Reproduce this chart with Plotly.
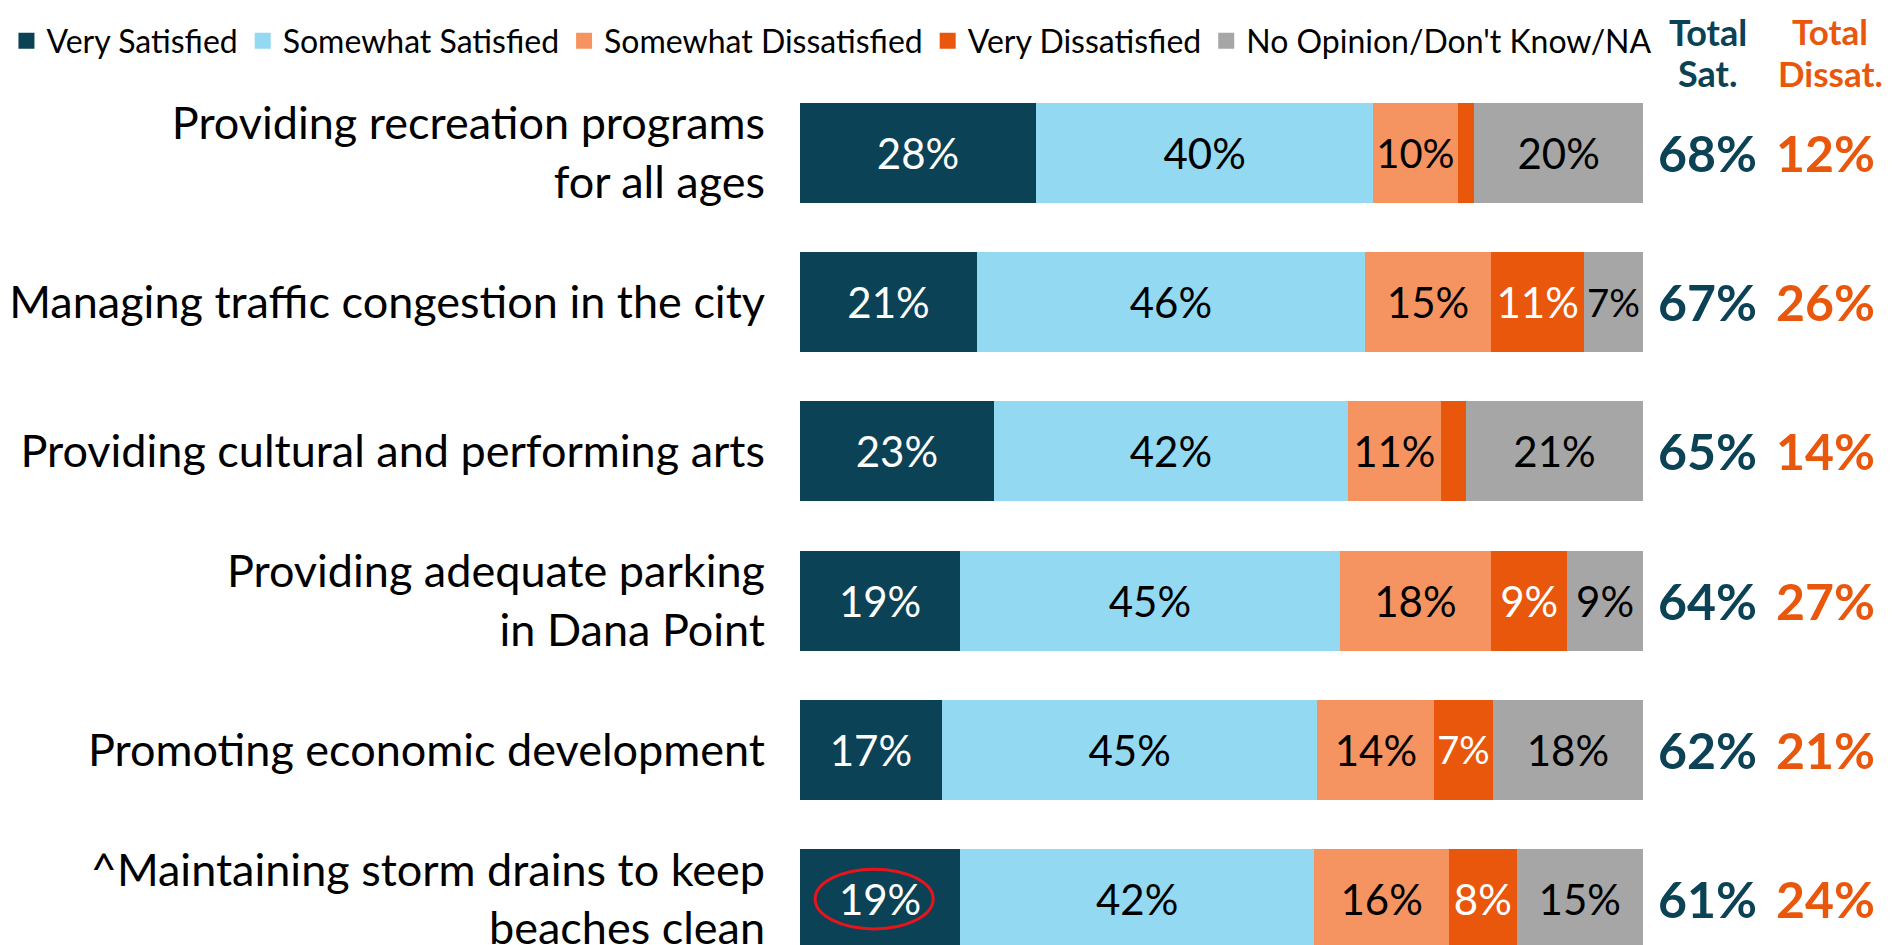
import plotly.graph_objects as go

categories = [
    "Providing recreation programs<br>for all ages",
    "Managing traffic congestion in the city",
    "Providing cultural and performing arts",
    "Providing adequate parking<br>in Dana Point",
    "Promoting economic development",
    "^Maintaining storm drains to keep<br>beaches clean",
]
series_names = ["Very Satisfied", "Somewhat Satisfied", "Somewhat Dissatisfied",
                "Very Dissatisfied", "No Opinion/Don't Know/NA"]
very_satisfied = [28, 21, 23, 19, 17, 19]
somewhat_satisfied = [40, 46, 42, 45, 45, 42]
somewhat_dissatisfied = [10, 15, 11, 18, 14, 16]
very_dissatisfied = [2, 11, 3, 9, 7, 8]
no_opinion = [20, 7, 21, 9, 18, 15]
total_sat = [68, 67, 65, 64, 62, 61]
total_dissat = [12, 26, 14, 27, 21, 24]

series_values = [very_satisfied, somewhat_satisfied, somewhat_dissatisfied,
                 very_dissatisfied, no_opinion]
colors = ["#0B4256", "#93D9F1", "#F69461", "#E9570C", "#A6A6A6"]
text_colors = ["white", "black", "black", "white", "black"]

DARK = "#0B4256"
ORANGE = "#E9570C"
FONT = "Lato"

# layout geometry (figure pixels; page body adds an 8px offset)
W, H = 1892, 937
ML, MT = 792, 52
BAR_PX = 843                      # pixels spanned by 100%
XMAX = 100 * (W - ML) / BAR_PX    # x range so bars end before the totals columns

fig = go.Figure()
for name, vals, col, tcol in zip(series_names, series_values, colors, text_colors):
    fig.add_trace(go.Bar(
        y=categories, x=vals, name=name, orientation="h",
        marker=dict(color=col, line=dict(width=0)),
        width=0.67,
        text=[f"{v}%" if v >= 5 else "" for v in vals],
        textposition="inside", insidetextanchor="middle", textangle=0,
        textfont=dict(family=FONT, size=42, color=tcol),
        hoverinfo="skip", legendgroup=name, showlegend=False,
    ))
# legend entries with larger square swatches
for name, col in zip(series_names, colors):
    fig.add_trace(go.Scatter(
        x=[None], y=[None], mode="markers", name=name, legendgroup=name,
        marker=dict(symbol="square", size=16, color=col), hoverinfo="skip",
    ))

SAT_X, DIS_X = 107.7, 121.6
annotations = []
for cat, s, d in zip(categories, total_sat, total_dissat):
    annotations.append(dict(x=SAT_X, y=cat, xref="x", yref="y", text=f"<b>{s}%</b>",
                            showarrow=False, xanchor="center", yanchor="middle",
                            font=dict(family=FONT, size=50, color=DARK)))
    annotations.append(dict(x=DIS_X, y=cat, xref="x", yref="y", text=f"<b>{d}%</b>",
                            showarrow=False, xanchor="center", yanchor="middle",
                            font=dict(family=FONT, size=50, color=ORANGE)))

TOP_Y = H / (H - MT)   # paper y of the figure's top edge
for hx, line2, col, size in [(SAT_X, "Sat.", DARK, 36), (DIS_X + 0.6, "Dissat.", ORANGE, 35)]:
    annotations.append(dict(x=hx, y=TOP_Y, xref="x", yref="paper", text="<b>Total</b>",
                            showarrow=False, xanchor="center", yanchor="top",
                            font=dict(family=FONT, size=size, color=col)))
    annotations.append(dict(x=hx, y=0.9853, xref="x", yref="paper", text=f"<b>{line2}</b>",
                            showarrow=False, xanchor="center", yanchor="middle",
                            font=dict(family=FONT, size=size, color=col)))

# highlight ellipse around the last row's "Very Satisfied" label
fig.add_shape(type="circle", xref="x", yref="y",
              x0=1.8, x1=15.8, y0=5 - 0.2, y1=5 + 0.2,
              line=dict(color="#E8141B", width=3))

fig.update_layout(
    width=W, height=H,
    barmode="stack", barnorm="percent",
    plot_bgcolor="white", paper_bgcolor="white",
    margin=dict(l=ML, r=0, t=MT, b=0, autoexpand=False),
    font=dict(family=FONT, color="black"),
    showlegend=True,
    legend=dict(orientation="h", x=-0.7214, y=1.0215, xanchor="left", yanchor="middle",
                font=dict(family=FONT, size=32, color="black"), itemsizing="trace",
                traceorder="normal", bgcolor="rgba(0,0,0,0)"),
    annotations=annotations,
    xaxis=dict(range=[0, XMAX], visible=False, fixedrange=True),
    yaxis=dict(type="category", range=[5.308, -0.623], showgrid=False, zeroline=False,
               showline=False, ticks="", ticklabelstandoff=34, automargin=False,
               tickfont=dict(family=FONT, size=45, color="black")),
)

fig.write_html("out.html")
